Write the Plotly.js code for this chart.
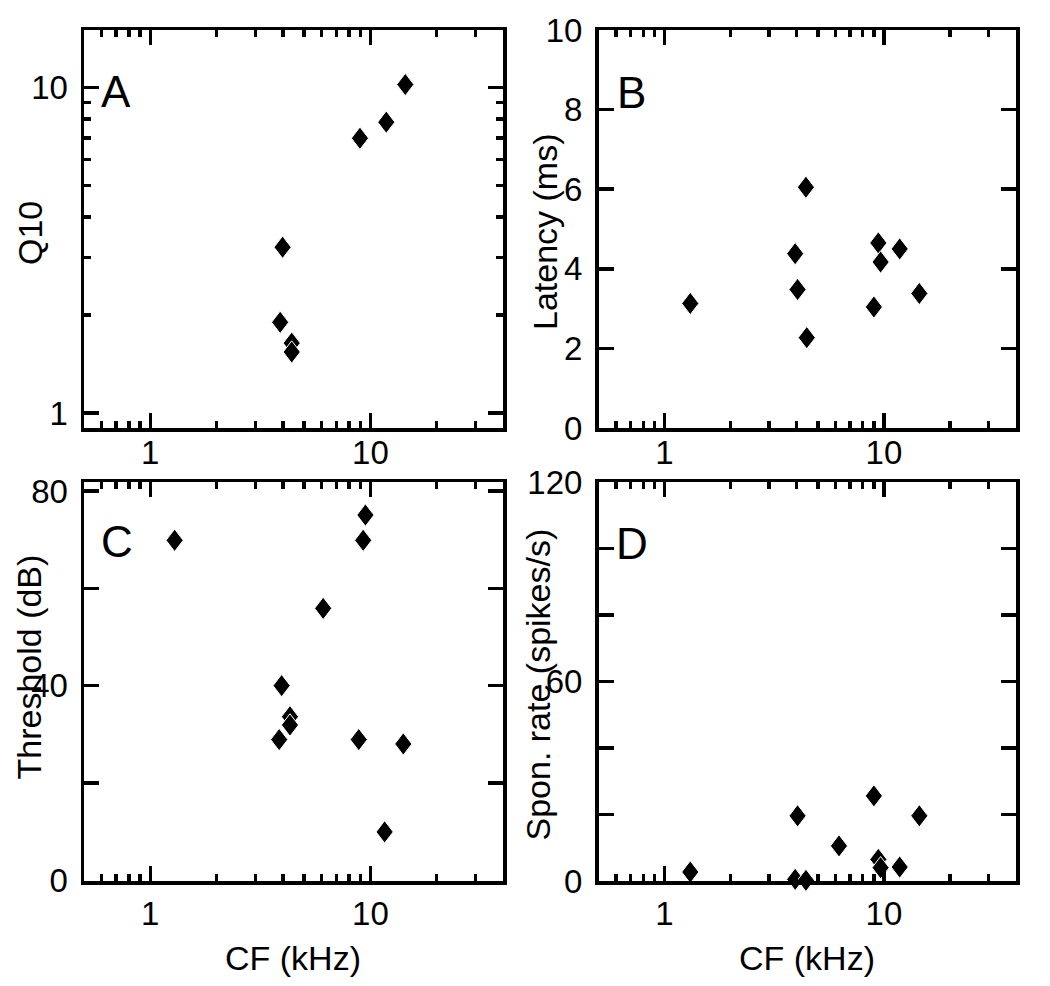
<!DOCTYPE html>
<html><head><meta charset="utf-8">
<script src="https://cdn.plot.ly/plotly-3.0.1.min.js"></script>
<style>html,body{margin:0;padding:0;background:#fff;} #chart{width:1050px;height:986px;}</style>
</head><body><div id="chart"></div>
<script>
// ---- data ----
// Panel A: Q10 vs CF (kHz)
const cfA  = [14.4, 11.8, 8.96, 3.99, 3.89, 4.39, 4.39];
const q10A = [10.2, 7.82, 6.98, 3.23, 1.90, 1.64, 1.54];
// Panel B: Latency (ms) vs CF
const cfB  = [1.31, 4.41, 3.94, 4.04, 4.45, 9.43, 9.66, 11.8, 9.0, 14.5];
const latB = [3.13, 6.05, 4.38, 3.48, 2.27, 4.65, 4.17, 4.50, 3.04, 3.38];
// Panel C: Threshold (dB) vs CF
const cfC  = [1.29, 9.49, 9.27, 6.1, 3.95, 4.31, 4.31, 3.85, 8.85, 14.1, 11.6];
const thrC = [69.9, 75.1, 69.9, 55.9, 40.0, 33.6, 31.9, 28.9, 28.9, 28.0, 9.9];
// Panel D: Spontaneous rate (spikes/s) vs CF
const cfD  = [1.31, 4.04, 3.94, 4.41, 6.24, 9.0, 9.43, 9.66, 11.8, 14.5];
const spD  = [2.7, 19.6, 0.5, 0.2, 10.55, 25.6, 6.5, 4.0, 4.2, 19.6];

// tick values / labels
const xMajor = [1, 10];
const xMajorText = ['1', '10'];
const xMinor = [0.6, 0.7, 0.8, 0.9, 2, 3, 4, 5, 6, 7, 8, 9, 20, 30];
const qMajor = [1, 10];
const qMajorText = ['1', '10'];
const qMinor = [2, 3, 4, 5, 6, 7, 8, 9];
const latTicks = [0, 2, 4, 6, 8, 10];
const latText = ['0', '2', '4', '6', '8', '10'];
const thrTicks = [0, 20, 40, 60, 80];
const thrText = ['0', '', '40', '', '80'];
const spTicks = [0, 20, 40, 60, 80, 100, 120];
const spText = ['0', '', '', '60', '', '', '120'];

const panelLetters = ['A', 'B', 'C', 'D'];
const yTitles = ['Q10', 'Latency (ms)', 'Threshold (dB)', 'Spon. rate (spikes/s)'];
const xTitle = 'CF (kHz)';

// ---- layout helpers ----
const W = 1050, H = 986;
const px = v => v / W;
const py = v => 1 - v / H;
const FONT = '"Liberation Sans", Arial, Helvetica, sans-serif';
const TICKF = {family: FONT, size: 33, color: '#000'};
const LW = 3.5;

function xAxis(domain, anchor, standoff) {
  return {
    type: 'log', domain: domain, anchor: anchor,
    range: [Math.log10(0.5), Math.log10(40)],
    tickmode: 'array', tickvals: xMajor, ticktext: xMajorText,
    ticks: 'inside', ticklen: 15, tickwidth: LW, tickcolor: '#000',
    minor: {tickmode: 'array', tickvals: xMinor, ticks: 'inside', ticklen: 7, tickwidth: LW, tickcolor: '#000', showgrid: false},
    showline: true, linewidth: LW, linecolor: '#000', mirror: 'ticks',
    showgrid: false, zeroline: false, tickfont: TICKF,
    ticklabelstandoff: standoff, fixedrange: true
  };
}
function yLin(domain, anchor, range, vals, text) {
  return {
    type: 'linear', domain: domain, anchor: anchor, range: range,
    tickmode: 'array', tickvals: vals, ticktext: text,
    ticks: 'inside', ticklen: 15, tickwidth: LW, tickcolor: '#000',
    showline: true, linewidth: LW, linecolor: '#000', mirror: 'ticks',
    showgrid: false, zeroline: false, tickfont: TICKF,
    ticklabelstandoff: 6, fixedrange: true
  };
}

const colL = [px(84), px(503)];
const colR = [px(598.5), px(1016)];
const rowT = [py(428), py(30)];
const rowB = [py(881), py(482)];

const marker = {symbol: 'diamond', size: 17, color: '#000', line: {color: '#fff', width: 1}};
function tr(x, y, xa, ya) {
  return {type: 'scatter', mode: 'markers', x: x, y: y, xaxis: xa, yaxis: ya,
          marker: marker, cliponaxis: false, hoverinfo: 'x+y', showlegend: false};
}

const data = [
  tr(cfA, q10A, 'x', 'y'),
  tr(cfB, latB, 'x2', 'y2'),
  tr(cfC, thrC, 'x3', 'y3'),
  tr(cfD, spD, 'x4', 'y4')
];

const yA = {
  type: 'log', domain: rowT, anchor: 'x',
  range: [Math.log10(0.9), Math.log10(15)],
  tickmode: 'array', tickvals: qMajor, ticktext: qMajorText,
  ticks: 'inside', ticklen: 15, tickwidth: LW, tickcolor: '#000',
  minor: {tickmode: 'array', tickvals: qMinor, ticks: 'inside', ticklen: 7, tickwidth: LW, tickcolor: '#000', showgrid: false},
  showline: true, linewidth: LW, linecolor: '#000', mirror: 'ticks',
  showgrid: false, zeroline: false, tickfont: TICKF,
  ticklabelstandoff: 6, fixedrange: true
};

function ann(text, x, y, size, angle) {
  return {text: text, xref: 'paper', yref: 'paper', x: px(x), y: py(y),
          xanchor: 'center', yanchor: 'middle', showarrow: false,
          textangle: angle || 0, font: {family: FONT, size: size, color: '#000'}};
}

const layout = {
  width: W, height: H,
  margin: {l: 0, r: 0, t: 0, b: 0},
  paper_bgcolor: '#fff', plot_bgcolor: '#fff',
  showlegend: false,
  xaxis: xAxis(colL, 'y', -7),
  yaxis: yA,
  xaxis2: xAxis(colR, 'y2', -7),
  yaxis2: yLin(rowT, 'x2', [0, 10], latTicks, latText),
  xaxis3: xAxis(colL, 'y3', 1),
  yaxis3: yLin(rowB, 'x3', [-0.2, 81.9], thrTicks, thrText),
  xaxis4: xAxis(colR, 'y4', 1),
  yaxis4: yLin(rowB, 'x4', [0, 120], spTicks, spText),
  annotations: [
    ann(panelLetters[0], 115.5, 92, 44),
    ann(panelLetters[1], 631, 92.5, 44),
    ann(panelLetters[2], 117, 541, 44),
    ann(panelLetters[3], 632, 543, 44),
    ann(yTitles[0], 30, 233, 34, -90),
    ann(yTitles[1], 545, 232, 34, -90),
    ann(yTitles[2], 28.5, 667, 34, -90),
    ann(yTitles[3], 537.5, 685, 34, -90),
    ann(xTitle, 293, 958, 34),
    ann(xTitle, 807, 958, 34)
  ]
};

// The reference diamonds are taller than wide (~17 x 22 px); reshape the
// marker glyph only (positions still come from Plotly's scales).
function tallDiamonds(gd) {
  gd.querySelectorAll('.scatterlayer path.point').forEach(function (p) {
    p.setAttribute('d', 'M8.6,0L0,11.2L-8.6,0L0,-11.2Z');
  });
}

const gd = document.getElementById('chart');
Plotly.newPlot(gd, data, layout, {displayModeBar: false, staticPlot: true}).then(function () {
  tallDiamonds(gd);
  gd.on('plotly_afterplot', function () { tallDiamonds(gd); });
});
</script>
</body></html>
